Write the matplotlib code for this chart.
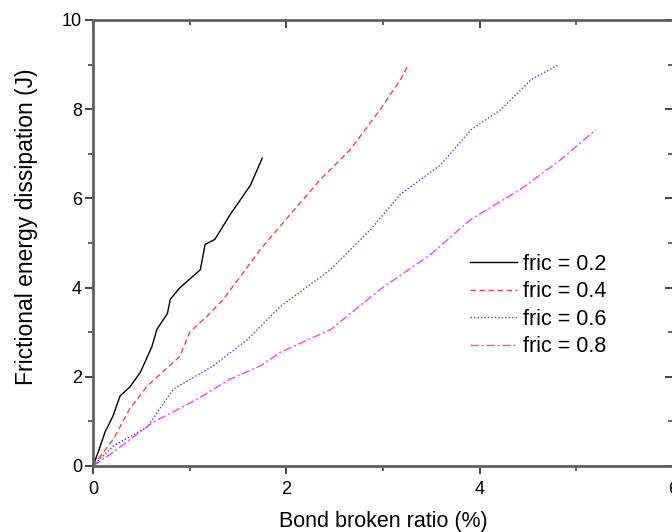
import matplotlib
matplotlib.use("Agg")
import matplotlib.pyplot as plt
from matplotlib.ticker import MultipleLocator

plt.rcParams['font.family'] = ['Liberation Sans', 'DejaVu Sans']

x02 = [0, 0.06, 0.124, 0.207, 0.28, 0.38, 0.49, 0.61, 0.66, 0.77, 0.80, 0.9, 1.11, 1.16, 1.26, 1.42, 1.63, 1.75]
y02 = [0, 0.35, 0.76, 1.12, 1.57, 1.77, 2.10, 2.68, 3.06, 3.42, 3.74, 4.0, 4.4, 4.97, 5.08, 5.64, 6.3, 6.9]

x04 = [0, 0.21, 0.38, 0.56, 0.73, 0.90, 1.0, 1.18, 1.35, 1.73, 2.04, 2.35, 2.66, 2.97, 3.18, 3.26]
y04 = [0, 0.6, 1.28, 1.79, 2.13, 2.46, 3.0, 3.36, 3.74, 4.85, 5.64, 6.42, 7.09, 7.99, 8.66, 8.99]

x06 = [0, 0.21, 0.56, 0.83, 1.24, 1.6, 1.94, 2.46, 2.87, 3.18, 3.6, 3.91, 4.22, 4.53, 4.81]
y06 = [0, 0.45, 0.87, 1.72, 2.24, 2.84, 3.58, 4.41, 5.30, 6.09, 6.76, 7.54, 7.99, 8.66, 8.99]

x08 = [0, 0.21, 0.62, 1.08, 1.42, 1.73, 1.94, 2.46, 2.97, 3.49, 3.91, 4.42, 4.84, 5.2]
y08 = [0, 0.31, 0.98, 1.5, 1.95, 2.24, 2.55, 3.06, 3.96, 4.74, 5.53, 6.2, 6.87, 7.54]

labels = ['fric = 0.2', 'fric = 0.4', 'fric = 0.6', 'fric = 0.8']

W, H = 672, 532
fig = plt.figure(figsize=(W/100, H/100), dpi=100)
ax = fig.add_axes([93/W, 1-466/H, 580/W, 446/H])

ax.plot(x02, y02, color='black', lw=1.0, ls='-', label=labels[0])
ax.plot(x04, y04, color='#ff4040', lw=1.0, ls=(0, (4, 2.5)), label=labels[1])
ax.plot(x06, y06, color='#4040ff', lw=1.0, ls=(0, (1, 1.5)), label=labels[2])
ax.plot(x08, y08, color='#ff40ff', lw=1.0, ls=(0, (6, 2, 1.5, 2)), label=labels[3])

ax.set_xlim(0, 6)
ax.set_ylim(0, 10)
ax.xaxis.set_major_locator(MultipleLocator(2))
ax.xaxis.set_minor_locator(MultipleLocator(1))
ax.yaxis.set_major_locator(MultipleLocator(2))
ax.yaxis.set_minor_locator(MultipleLocator(1))
ax.tick_params(which='both', direction='out', labelsize=13, color='#444444', pad=2)
ax.tick_params(axis='x', which='major', pad=5)
ax.tick_params(which='major', length=6, width=1.4)
ax.tick_params(which='minor', length=3.5, width=1.2)

# mirrored inward ticks on top/right via secondary axes
axt = ax.secondary_xaxis('top')
axt.xaxis.set_major_locator(MultipleLocator(2))
axt.xaxis.set_minor_locator(MultipleLocator(1))
axt.tick_params(which='both', direction='in', labeltop=False, color='#444444')
axt.tick_params(which='major', length=6, width=1.4)
axt.tick_params(which='minor', length=3.5, width=1.2)
axr = ax.secondary_yaxis('right')
axr.yaxis.set_major_locator(MultipleLocator(2))
axr.yaxis.set_minor_locator(MultipleLocator(1))
axr.tick_params(which='both', direction='in', labelright=False, color='#444444')
axr.tick_params(which='major', length=6, width=1.4)
axr.tick_params(which='minor', length=3.5, width=1.2)
for sa in (axt, axr):
    for s in sa.spines.values():
        s.set_visible(False)

for s in ax.spines.values():
    s.set_linewidth(2.0)
    s.set_color('#606060')

ax.set_xlabel('Bond broken ratio (%)', fontsize=15.5, labelpad=9)
ax.set_ylabel('Frictional energy dissipation (J)', fontsize=16.5)
ax.yaxis.set_label_coords(-0.094, 0.537)

ax.legend(loc='upper left', bbox_to_anchor=(470/W, 1-254/H), bbox_transform=fig.transFigure,
          frameon=False, fontsize=15.5, borderpad=0, borderaxespad=0,
          handlelength=2.2, handletextpad=0.25, labelspacing=0.3)

fig.savefig('out.png', dpi=100)
